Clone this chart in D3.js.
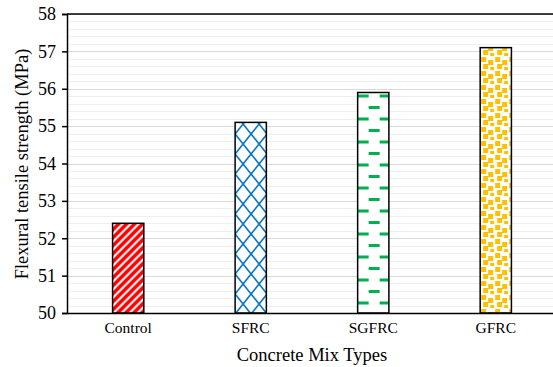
<!DOCTYPE html>
<html>
<head>
<meta charset="utf-8">
<script src="https://cdn.jsdelivr.net/npm/d3@7"></script>
<style>
  body { margin: 0; background: #fff; }
  text { font-family: "Liberation Serif", "Times New Roman", serif; fill: #000; }
</style>
</head>
<body>
<div id="chart"></div>
<script>
var mixTypes = ["Control", "SFRC", "SGFRC", "GFRC"];
var strengths = [52.4, 55.1, 55.9, 57.1];
var yTicks = [50, 51, 52, 53, 54, 55, 56, 57, 58];

var margin = {top: 14, right: -4, bottom: 54, left: 67},
    width = 553 - margin.left - margin.right,
    height = 367 - margin.top - margin.bottom;

var svg = d3.select("#chart").append("svg")
    .attr("width", 553)
    .attr("height", 367);
var defs = svg.append("defs");
var g = svg.append("g").attr("transform", "translate(" + margin.left + "," + margin.top + ")");

var x = d3.scaleBand().domain(mixTypes).range([0, width]).paddingInner(0.745).paddingOuter(0.372);
var y = d3.scaleLinear().domain([50, 58]).range([height, 0]);

// minor + major gridlines
g.append("g").selectAll("line")
    .data(d3.range(50, 58.01, 0.2))
    .enter().append("line")
    .attr("x1", 0).attr("x2", width)
    .attr("y1", function (d) { return Math.round(y(d)) + 0.5; })
    .attr("y2", function (d) { return Math.round(y(d)) + 0.5; })
    .style("stroke", function (d) { return Math.abs(d - Math.round(d)) < 0.01 ? "#d9d9d9" : "#efefef"; })
    .style("stroke-width", 1);

// patterns, anchored to each bar
function makePattern(id, bx, w, h, draw) {
    var p = defs.append("pattern")
        .attr("id", id)
        .attr("patternUnits", "userSpaceOnUse")
        .attr("x", bx).attr("y", 0)
        .attr("width", w).attr("height", h);
    p.append("rect").attr("width", w).attr("height", h).attr("fill", "#fff");
    draw(p);
}

var bx = function (i) { return x(mixTypes[i]); };

makePattern("pRed", bx(0), 8, 8, function (p) {
    p.append("path")
        .attr("d", "M-2,2 L2,-2 M0,8 L8,0 M6,10 L10,6")
        .attr("stroke", "#ff0000").attr("stroke-width", 3.6);
});
makePattern("pBlue", bx(1), 16, 20, function (p) {
    p.append("path")
        .attr("d", "M0,0 L8,10 L16,0 M0,20 L8,10 L16,20")
        .attr("stroke", "#0070c0").attr("stroke-width", 1.6).attr("fill", "none");
});
makePattern("pGreen", bx(2), 22, 23, function (p) {
    p.append("rect").attr("x", 11).attr("y", 0).attr("width", 11).attr("height", 3).attr("fill", "#00b050");
    p.append("rect").attr("x", 0).attr("y", 11.5).attr("width", 11).attr("height", 3).attr("fill", "#00b050");
});
makePattern("pGold", bx(3), 14, 14, function (p) {
    var sq = [[1, 1], [8, 4], [3, 8], [10, 11]];
    sq.forEach(function (s) {
        p.append("rect").attr("x", s[0]).attr("y", s[1]).attr("width", 5).attr("height", 5).attr("fill", "#ffc000");
    });
});

var fills = ["url(#pRed)", "url(#pBlue)", "url(#pGreen)", "url(#pGold)"];

g.selectAll(".bar")
    .data(strengths)
    .enter().append("rect")
    .attr("class", "bar")
    .attr("x", function (d, i) { return x(mixTypes[i]); })
    .attr("y", function (d) { return y(d); })
    .attr("width", x.bandwidth())
    .attr("height", function (d) { return y(50) - y(d); })
    .style("fill", function (d, i) { return fills[i]; })
    .style("stroke", "#000")
    .style("stroke-width", 1.5);

// top border
g.append("line")
    .attr("x1", 0).attr("x2", width)
    .attr("y1", 0).attr("y2", 0)
    .style("stroke", "#000").style("stroke-width", 1.5);

// axes
var yAxis = g.append("g")
    .call(d3.axisLeft(y).tickValues(yTicks).tickSize(5).tickFormat(d3.format("d")));
yAxis.select(".domain").style("stroke-width", 1.5);
yAxis.selectAll(".tick line").style("stroke-width", 1.5);
yAxis.selectAll("text").style("font-size", "18px").attr("x", -11);

var xAxis = g.append("g")
    .attr("transform", "translate(0," + height + ")")
    .call(d3.axisBottom(x).tickSize(0));
xAxis.select(".domain").style("stroke-width", 1.5);
xAxis.selectAll("text").style("font-size", "15.5px").attr("dy", "1.1em");

svg.append("text")
    .attr("x", 312)
    .attr("y", 361)
    .attr("text-anchor", "middle")
    .style("font-size", "18.5px")
    .text("Concrete Mix Types");

svg.append("text")
    .attr("transform", "translate(28,164) rotate(-90)")
    .attr("text-anchor", "middle")
    .style("font-size", "18.5px")
    .text("Flexural tensile strength (MPa)");
</script>
</body>
</html>
